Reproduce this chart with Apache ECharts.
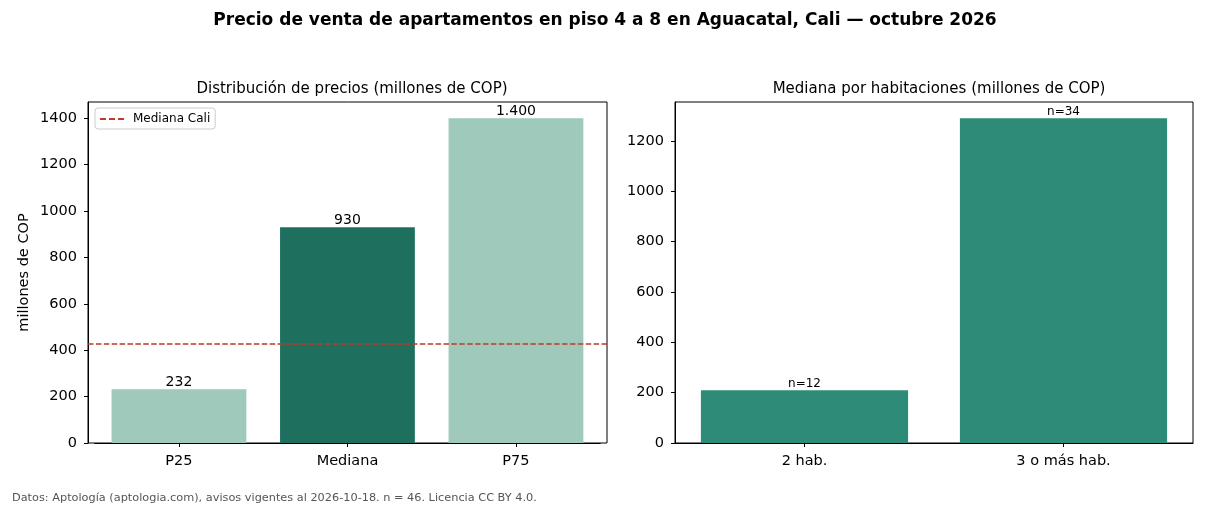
<!DOCTYPE html>
<html>
<head>
<meta charset="utf-8">
<script src="https://cdn.jsdelivr.net/npm/echarts@6/dist/echarts.min.js"></script>
<style>
  html, body { margin: 0; padding: 0; background: #fff; }
  #chart { width: 1210px; height: 506px; }
</style>
</head>
<body>
<div id="chart"></div>
<script>
// datos
let percentiles = ['P25', 'Mediana', 'P75'];
let precios = [232, 930, 1400];
let medianaCali = 430;
let habitaciones = ['2 hab.', '3 o más hab.'];
let medianasHab = [210, 1290];
let conteos = [12, 34];
let ticksY = [0, 200, 400, 600, 800, 1000, 1200, 1400];

let claro = '#9ec9bb', oscuro = '#1f6f5f', verde = '#2e8b77', rojo = '#c0392b';
let fuente = 'DejaVu Sans';

function miles(v) {
  return String(v).replace(/\B(?=(\d{3})+(?!\d))/g, '.');
}

let chart = echarts.init(document.getElementById('chart'));

let ejeY = {
  type: 'value',
  min: 0,
  interval: 200,
  axisLine: { show: true, lineStyle: { color: '#000' } },
  axisTick: { show: true, length: 4, lineStyle: { color: '#000' } },
  axisLabel: { color: '#000', fontSize: 14.5, fontFamily: fuente, margin: 11, showMaxLabel: false,
    formatter: v => ticksY.indexOf(v) >= 0 ? String(v) : '' },
  splitLine: { show: false }
};
let ejeX = {
  type: 'category',
  axisLine: { lineStyle: { color: '#000' } },
  axisTick: { show: true, alignWithLabel: true, length: 4, lineStyle: { color: '#000' } },
  axisLabel: { color: '#000', fontSize: 14.5, fontFamily: fuente, margin: 11 }
};

let option = {
  animation: false,
  textStyle: { fontFamily: fuente },
  title: [
    { text: 'Precio de venta de apartamentos en piso 4 a 8 en Aguacatal, Cali — octubre 2026',
      left: 'center', top: 7, textStyle: { fontSize: 17, fontWeight: 'bold', color: '#000', fontFamily: fuente } },
    { text: 'Distribución de precios (millones de COP)', left: 347, textAlign: 'center', top: 77,
      textStyle: { fontSize: 15, fontWeight: 'normal', color: '#000', fontFamily: fuente } },
    { text: 'Mediana por habitaciones (millones de COP)', left: 934, textAlign: 'center', top: 77,
      textStyle: { fontSize: 15, fontWeight: 'normal', color: '#000', fontFamily: fuente } },
    { text: 'Datos: Aptología (aptologia.com), avisos vigentes al 2026-10-18. n = 46. Licencia CC BY 4.0.',
      left: 7, top: 488, textStyle: { fontSize: 11.3, fontWeight: 'normal', color: '#555', fontFamily: fuente } }
  ],
  legend: {
    data: [{ name: 'Mediana Cali', icon: 'path://M0,0h6v2h-6z M9,0h6v2h-6z M18,0h6v2h-6z' }],
    left: 95, top: 108,
    itemWidth: 24, itemHeight: 2, itemGap: 6,
    padding: [5, 5, 4, 5],
    borderColor: '#ccc', borderWidth: 1, borderRadius: 3,
    textStyle: { fontSize: 12, color: '#000', fontFamily: fuente, padding: [0, 0, 0, 4] }
  },
  grid: [
    // caja completa del panel izquierdo
    { left: 88, top: 102, width: 519, height: 341, show: true, borderColor: '#000', borderWidth: 1 },
    // banda de categorías (márgenes tipo matplotlib)
    { left: 94.7, top: 102, width: 505.5, height: 341, show: false },
    { left: 675, top: 102, width: 518, height: 341, show: true, borderColor: '#000', borderWidth: 1 }
  ],
  xAxis: [
    { type: 'value', gridIndex: 0, min: 0, max: 1, show: false },
    Object.assign({}, ejeX, { gridIndex: 1, data: percentiles }),
    Object.assign({}, ejeX, { gridIndex: 2, data: habitaciones })
  ],
  yAxis: [
    Object.assign({}, ejeY, { gridIndex: 0, max: 1470, name: 'millones de COP', nameLocation: 'middle',
      nameGap: 56, nameTextStyle: { fontSize: 14.5, color: '#000', fontFamily: fuente } }),
    { type: 'value', gridIndex: 1, min: 0, max: 1470, show: false },
    Object.assign({}, ejeY, { gridIndex: 2, max: 1355 })
  ],
  series: [
    {
      type: 'bar', xAxisIndex: 1, yAxisIndex: 1, barWidth: '80%',
      data: precios.map((v, i) => ({ value: v, itemStyle: { color: i === 1 ? oscuro : claro } })),
      label: { show: true, position: 'top', distance: 0, color: '#000', fontSize: 14,
        formatter: p => miles(p.value) }
    },
    {
      name: 'Mediana Cali', type: 'line', xAxisIndex: 0, yAxisIndex: 0,
      symbol: 'none', data: [],
      itemStyle: { color: rojo },
      lineStyle: { color: rojo, width: 1.5, type: [5.5, 2.4] },
      markLine: {
        silent: true, symbol: 'none', label: { show: false },
        lineStyle: { color: rojo, width: 1.5, type: [5.5, 2.4] },
        data: [{ yAxis: medianaCali }]
      }
    },
    {
      type: 'bar', xAxisIndex: 2, yAxisIndex: 2, barWidth: '80%',
      itemStyle: { color: verde },
      data: medianasHab,
      label: { show: true, position: 'top', distance: 0, color: '#000', fontSize: 12,
        formatter: p => 'n=' + conteos[p.dataIndex] }
    }
  ]
};

chart.setOption(option);
</script>
</body>
</html>
